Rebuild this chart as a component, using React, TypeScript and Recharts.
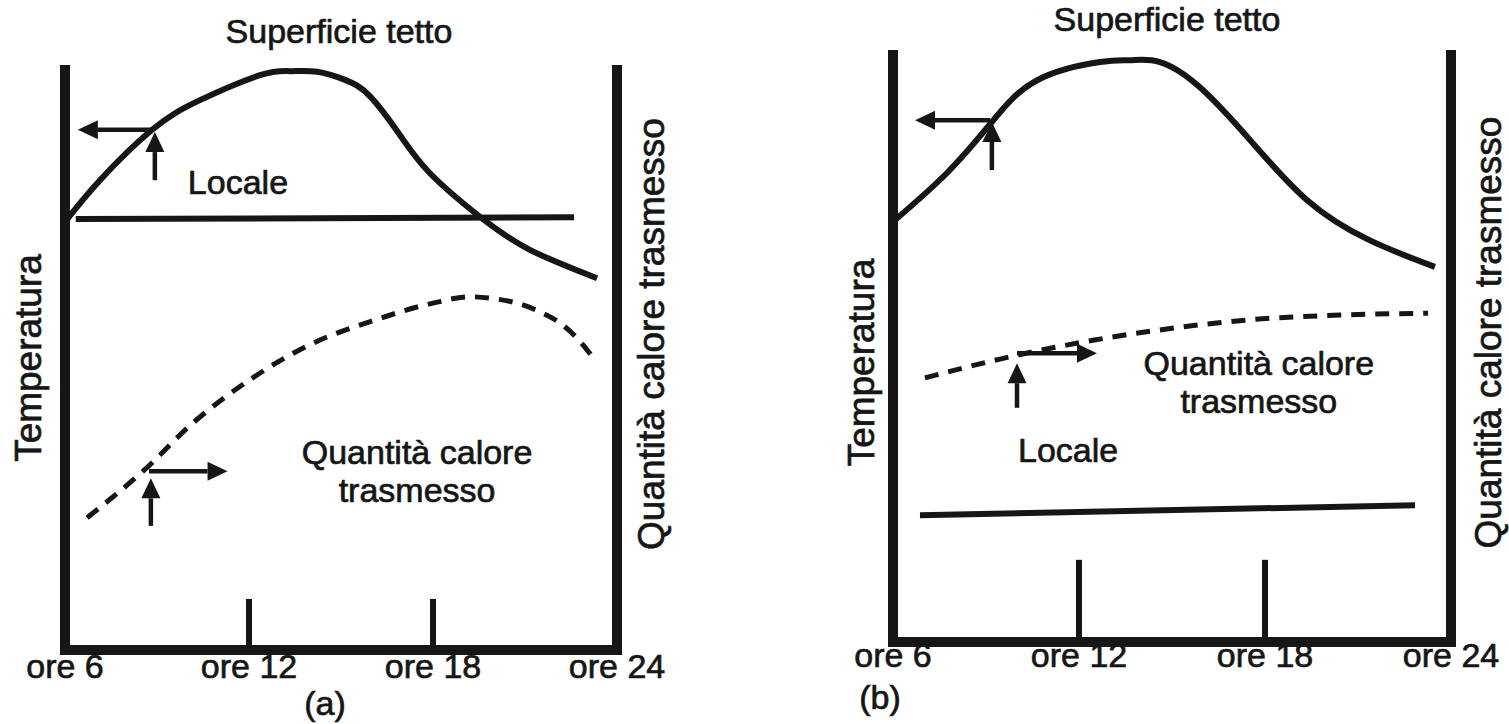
import React from "react"
import { LineChart, Line, XAxis, YAxis, ReferenceLine, ReferenceDot } from "recharts"

const FONT = '"Liberation Sans", Arial, Helvetica, sans-serif'
const INK = "#161616"
const TEXT_SIZE = 34
const SIDE_SIZE = 37

// bottom axis
const hourTicks = [6, 12, 18, 24]
const tickLabel = (h: number) => `ore ${h}`
const innerTicks = [12, 18]

// (a) roof surface temperature
const surfaceHoursA = [6, 7.14, 8.84, 10.4, 12.36, 13.34, 14.22, 15.13, 15.94, 16.92, 17.9, 19.53, 21.16, 23.35]
const surfaceTempA = [73.8, 81.0, 89.7, 94.8, 99.1, 99.8, 99.7, 98.3, 95.5, 88.8, 82.2, 74.7, 69.0, 64.1]
// (a) room temperature
const roomHoursA = [6.35, 22.6]
const roomTempA = [74.3, 74.6]
// (a) heat transmitted
const heatHoursA = [6.72, 8.58, 10.14, 12.03, 14.05, 16.11, 18.0, 19.2, 20.09, 20.74, 21.49, 22.14, 22.69, 23.21]
const heatA = [22.8, 31.0, 39.0, 46.6, 52.8, 56.9, 59.8, 60.9, 60.5, 59.8, 58.3, 56.4, 53.8, 50.5]

// (b) roof surface temperature
const surfaceHoursB = [6, 7.74, 9.19, 10.65, 12.68, 13.65, 14.61, 15.9, 17.52, 19.35, 21.35, 23.48]
const surfaceTempB = [71.6, 79.9, 88.6, 95.7, 98.8, 99.1, 98.8, 94.5, 85.5, 75.3, 68.5, 63.9]
// (b) room temperature
const roomHoursB = [6.87, 22.84]
const roomTempB = [21.6, 23.3]
// (b) heat transmitted
const heatHoursB = [7.03, 9.45, 12.45, 14.39, 17.52, 20.42, 23.26]
const heatB = [45.0, 48.2, 51.4, 53.0, 54.9, 55.7, 56.0]

// arrows: [hour, value] -> [hour, value]
const arrowsA = [
  [8.93, 81.0, 8.93, 89.3],
  [8.84, 89.7, 6.42, 89.7],
  [8.8, 21.4, 8.8, 29.6],
  [8.74, 30.8, 11.3, 30.8],
]
const arrowsB = [
  [9.19, 80.4, 9.19, 88.6],
  [9.13, 88.9, 6.71, 88.9],
  [10.0, 39.9, 10.0, 47.5],
  [10.0, 49.2, 12.58, 49.2],
]

const toRows = (hs: number[], vs: number[]) => hs.map((h, i) => ({ h, v: vs[i] }))

const arrowShape = (p: any) => {
  const { x1, y1, x2, y2 } = p
  const a = Math.atan2(y2 - y1, x2 - x1)
  const c = Math.cos(a)
  const s = Math.sin(a)
  const L = 20
  const W = 9.5
  const bx = x2 - L * c
  const by = y2 - L * s
  return (
    <g>
      <line x1={x1} y1={y1} x2={bx} y2={by} stroke={INK} strokeWidth={4.5} />
      <polygon
        points={`${x2},${y2} ${bx + W * s},${by - W * c} ${bx - W * s},${by + W * c}`}
        fill={INK}
      />
    </g>
  )
}

const sideTitle = (text: string, dx: number, dy: number) => (props: any) => {
  const vb = props.viewBox
  const cx = vb.x + dx
  const cy = vb.y + vb.height / 2 + dy
  return (
    <text
      x={cx}
      y={cy}
      transform={`rotate(-90 ${cx} ${cy})`}
      textAnchor="middle"
      dominantBaseline="central"
      fill={INK}
      stroke={INK}
      strokeWidth={0.7}
      fontSize={SIDE_SIZE}
      fontFamily={FONT}
    >
      {text}
    </text>
  )
}

const txt = { fill: INK, stroke: INK, strokeWidth: 0.7, fontSize: TEXT_SIZE, fontFamily: FONT }
const axisStroke = { stroke: INK, strokeWidth: 10, strokeLinecap: "square" as const }

interface PanelProps {
  width: number
  margin: { top: number; right: number; bottom: number; left: number }
  surface: { h: number; v: number }[]
  room: { h: number; v: number }[]
  heat: { h: number; v: number }[]
  arrows: number[][]
  tickHeight: number
  tickGap: number
  leftTitle: [number, number]
  rightTitle: [number, number]
  locale: [number, number]
  quantity: [number, number, number]
}

function Panel(p: PanelProps) {
  return (
    <LineChart width={p.width} height={724} margin={p.margin}>
      <XAxis
        dataKey="h"
        type="number"
        domain={[6, 24]}
        ticks={hourTicks}
        interval={0}
        tickFormatter={tickLabel}
        tickLine={false}
        tickSize={0}
        tickMargin={p.tickGap}
        tick={txt}
        height={40}
        axisLine={axisStroke}
      />
      <YAxis
        domain={[0, 100]}
        type="number"
        width={1}
        tick={false}
        tickLine={false}
        axisLine={axisStroke}
        label={{ content: sideTitle("Temperatura", -p.leftTitle[0], p.leftTitle[1]) }}
      />
      <YAxis
        yAxisId="r"
        orientation="right"
        domain={[0, 100]}
        type="number"
        width={1}
        tick={false}
        tickLine={false}
        axisLine={axisStroke}
        label={{ content: sideTitle("Quantità calore trasmesso", p.rightTitle[0], p.rightTitle[1]) }}
      />
      {innerTicks.map((h) => (
        <ReferenceLine
          key={h}
          segment={[{ x: h, y: 0 }, { x: h, y: p.tickHeight }]}
          stroke={INK}
          strokeWidth={6}
        />
      ))}
      <Line data={p.surface} dataKey="v" type="natural" stroke={INK} strokeWidth={6} dot={false} isAnimationActive={false} />
      <Line data={p.room} dataKey="v" type="linear" stroke={INK} strokeWidth={6} dot={false} isAnimationActive={false} />
      <Line
        data={p.heat}
        dataKey="v"
        type="monotone"
        stroke={INK}
        strokeWidth={5}
        strokeDasharray="14 10"
        dot={false}
        isAnimationActive={false}
      />
      {p.arrows.map((a, i) => (
        <ReferenceLine key={i} segment={[{ x: a[0], y: a[1] }, { x: a[2], y: a[3] }]} shape={arrowShape} ifOverflow="visible" />
      ))}
      <ReferenceDot x={p.locale[0]} y={p.locale[1]} r={0} fill="none" stroke="none" label={{ value: "Locale", position: "center", ...txt }} />
      <ReferenceDot x={p.quantity[0]} y={p.quantity[1]} r={0} fill="none" stroke="none" label={{ value: "Quantità calore", position: "center", ...txt }} />
      <ReferenceDot x={p.quantity[0]} y={p.quantity[2]} r={0} fill="none" stroke="none" label={{ value: "trasmesso", position: "center", ...txt }} />
    </LineChart>
  )
}

const note = (left: number, top: number): React.CSSProperties => ({
  position: "absolute",
  left,
  top,
  transform: "translate(-50%, -50%)",
  fontFamily: FONT,
  fontSize: TEXT_SIZE,
  lineHeight: 1,
  color: INK,
  WebkitTextStroke: `0.7px ${INK}`,
  whiteSpace: "nowrap",
})

export default function App() {
  return (
    <div style={{ position: "fixed", left: 0, top: 0, width: 1509, height: 724, background: "#fff", overflow: "hidden" }}>
      <div style={{ position: "absolute", left: 0, top: 0 }}>
        <Panel
          width={754}
          margin={{ top: 70, right: 136, bottom: 34, left: 64 }}
          surface={toRows(surfaceHoursA, surfaceTempA)}
          room={toRows(roomHoursA, roomTempA)}
          heat={toRows(heatHoursA, heatA)}
          arrows={arrowsA}
          tickHeight={8.8}
          tickGap={4}
          leftTitle={[36, -2]}
          rightTitle={[34, -26]}
          locale={[11.64, 80.7]}
          quantity={[17.48, 34.1, 27.6]}
        />
      </div>
      <div style={{ position: "absolute", left: 754, top: 0 }}>
        <Panel
          width={755}
          margin={{ top: 55, right: 57, bottom: 42, left: 138 }}
          surface={toRows(surfaceHoursB, surfaceTempB)}
          room={toRows(roomHoursB, roomTempB)}
          heat={toRows(heatHoursB, heatB)}
          arrows={arrowsB}
          tickHeight={14}
          tickGap={1}
          leftTitle={[31, 14]}
          rightTitle={[37, -16]}
          locale={[11.65, 32.7]}
          quantity={[17.8, 47.5, 41.1]}
        />
      </div>
      <div style={note(339, 31)}>Superficie tetto</div>
      <div style={note(325, 703)}>(a)</div>
      <div style={note(1167, 19)}>Superficie tetto</div>
      <div style={note(880, 697)}>(b)</div>
    </div>
  )
}
